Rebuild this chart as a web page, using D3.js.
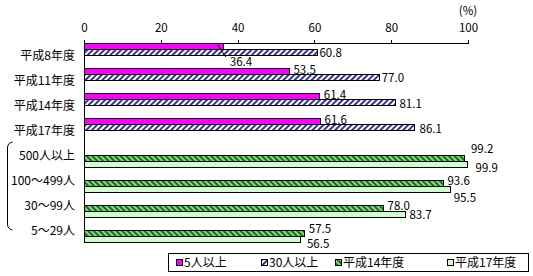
<!DOCTYPE html>
<meta charset="utf-8">
<head>
    <script src="https://d3js.org/d3.v7.min.js"></script>
    <style>
        body { margin: 0; background: #fff; }
        text { font-family: "Noto Sans CJK JP", "Noto Sans", sans-serif; font-size: 12px; fill: #000; }
        .val { font-size: 11.5px; }
        .axis path, .axis line { stroke: #000; shape-rendering: crispEdges; }
    </style>
</head>
<body>
<div id="chart"></div>
<script>
    // data
    const categories = ["平成8年度", "平成11年度", "平成14年度", "平成17年度", "500人以上", "100～499人", "30～99人", "5～29人"]
    const seriesNames = ["5人以上", "30人以上", "平成14年度", "平成17年度"]
    const over5 = [36.4, 53.5, 61.4, 61.6, null, null, null, null]
    const over30 = [60.8, 77.0, 81.1, 86.1, null, null, null, null]
    const h14 = [null, null, null, null, 99.2, 93.6, 78.0, 57.5]
    const h17 = [null, null, null, null, 99.9, 95.5, 83.7, 56.5]
    const ticks = [0, 20, 40, 60, 80, 100]
    const series = [over5, over30, h14, h17]

    // small per-label nudges [dx, dy] so labels sit like in the original
    const labelNudge = [
        [[2, 15], [0, -2], [0, -2], [0, -2], null, null, null, null],
        [[-2, 0], [-2, 0], [0, 1], [1, 1], null, null, null, null],
        [null, null, null, null, [2, -10], [0, -3], [0, -3], [0, -5]],
        [null, null, null, null, [4, 3], [-1, 8], [0, 0], [2, 4]]
    ]

    const fills = ["#ff00ff", "url(#navyHatch)", "url(#greenHatch)", "#ccffcc"]

    const svg = d3.select("#chart").append("svg")
        .attr("width", 533)
        .attr("height", 276)

    const defs = svg.append("defs")
    const p1 = defs.append("pattern")
        .attr("id", "navyHatch")
        .attr("patternUnits", "userSpaceOnUse")
        .attr("width", 4).attr("height", 4)
        .attr("patternTransform", "rotate(45)")
    p1.append("rect").attr("width", 4).attr("height", 4).attr("fill", "#fff")
    p1.append("line").attr("x1", 1).attr("y1", 0).attr("x2", 1).attr("y2", 4)
        .attr("stroke", "#000080").attr("stroke-width", 1.6)

    const p2 = defs.append("pattern")
        .attr("id", "greenHatch")
        .attr("patternUnits", "userSpaceOnUse")
        .attr("width", 4).attr("height", 4)
        .attr("patternTransform", "rotate(-45)")
    p2.append("rect").attr("width", 4).attr("height", 4).attr("fill", "#008000")
    p2.append("line").attr("x1", 1).attr("y1", 0).attr("x2", 1).attr("y2", 4)
        .attr("stroke", "#fff").attr("stroke-width", 1.2)

    const x = d3.scaleLinear().domain([0, 100]).range([84, 468])
    const y = d3.scaleBand().domain(categories).range([42.5, 242.5])
    const inner = d3.scaleBand().domain(d3.range(4)).range([0.5, 24.5])

    // top axis
    svg.append("g")
        .attr("class", "axis")
        .attr("transform", "translate(0, 42.5)")
        .call(d3.axisTop(x).tickValues(ticks).tickSize(3).tickPadding(8).tickSizeOuter(3))
        .call(g => g.selectAll("text").style("font-size", "11.5px").style("font-family", null))

    svg.append("text")
        .attr("class", "val")
        .attr("x", x(100))
        .attr("y", 15)
        .attr("text-anchor", "middle")
        .text("(%)")

    // bars
    series.forEach((vals, si) => {
        svg.append("g")
            .selectAll("rect")
            .data(vals.map((v, i) => ({ v, cat: categories[i] })).filter(d => d.v != null))
            .join("rect")
            .attr("x", x(0))
            .attr("y", d => Math.round(y(d.cat) + inner(si)) + 0.5)
            .attr("width", d => x(d.v) - x(0))
            .attr("height", inner.bandwidth())
            .attr("fill", fills[si])
            .attr("stroke", "#000")
            .attr("stroke-width", 1)
            .attr("shape-rendering", "crispEdges")
    })

    // left axis line
    svg.append("line")
        .attr("x1", x(0) + 0.5).attr("x2", x(0) + 0.5)
        .attr("y1", 40).attr("y2", 242.5)
        .attr("stroke", "#000")
        .attr("shape-rendering", "crispEdges")

    // value labels
    series.forEach((vals, si) => {
        vals.forEach((v, i) => {
            if (v == null) return
            const n = labelNudge[si][i] || [0, 0]
            const cy = y(categories[i]) + inner(si) + inner.bandwidth() / 2
            svg.append("text")
                .attr("class", "val")
                .attr("x", x(v) + 4 + n[0])
                .attr("y", cy + 4.5 + n[1])
                .text(d3.format(".1f")(v))
        })
    })

    // leader line for the first label
    svg.append("line")
        .attr("x1", x(over5[0]) - 6).attr("y1", 45)
        .attr("x2", x(over5[0]) + 2).attr("y2", 57)
        .attr("stroke", "#000")
        .attr("stroke-width", 1)

    // category labels
    svg.append("g")
        .selectAll("text")
        .data(categories)
        .join("text")
        .attr("x", 75)
        .attr("y", d => y(d) + y.bandwidth() / 2 + 5)
        .attr("text-anchor", "end")
        .text(d => d)

    // bracket grouping the size classes
    svg.append("path")
        .attr("d", "M12.5,142 Q7.5,143 7.5,148 L7.5,224 Q7.5,229 12.5,230")
        .attr("fill", "none")
        .attr("stroke", "#000")

    // legend
    const legend = svg.append("g")
    legend.append("rect")
        .attr("x", 168.5).attr("y", 253.5)
        .attr("width", 360).attr("height", 18)
        .attr("fill", "#fff").attr("stroke", "#000")
        .attr("shape-rendering", "crispEdges")
    const legendX = [176, 261, 335, 447]
    seriesNames.forEach((name, i) => {
        legend.append("rect")
            .attr("x", legendX[i] + 0.5).attr("y", 259.5)
            .attr("width", 6).attr("height", 6)
            .attr("fill", fills[i]).attr("stroke", "#000")
            .attr("shape-rendering", "crispEdges")
        legend.append("text")
            .attr("x", legendX[i] + 8)
            .attr("y", 267)
            .text(name)
    })
</script>
</body>
